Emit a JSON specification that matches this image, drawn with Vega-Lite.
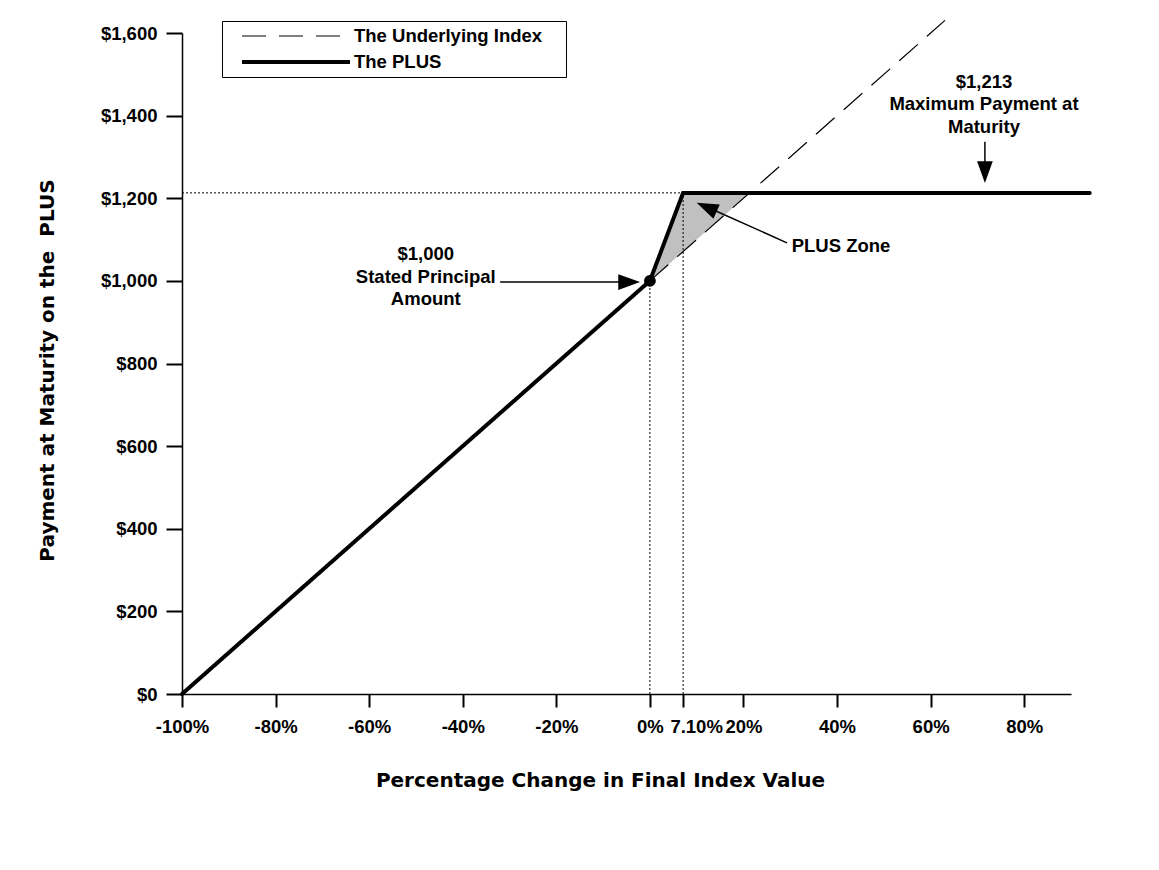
{
  "$schema": "https://vega.github.io/schema/vega-lite/v6.json",
  "width": 889,
  "height": 661,
  "autosize": {"type": "none"},
  "padding": {"left": 182, "top": 33, "right": 88, "bottom": 176},
  "background": "white",
  "config": {
    "view": {"stroke": null},
    "font": "Liberation Sans",
    "axis": {
      "grid": false,
      "domainColor": "black",
      "domainWidth": 1.5,
      "tickColor": "black",
      "tickWidth": 2,
      "labelFont": "Liberation Sans",
      "labelFontWeight": "bold",
      "labelFontSize": 18.5,
      "labelColor": "black",
      "titleFont": "DejaVu Sans",
      "titleFontWeight": "bold",
      "titleFontSize": 20,
      "titleColor": "black"
    },
    "legend": {
      "orient": "none",
      "legendX": 40,
      "legendY": -12,
      "strokeColor": "black",
      "fillColor": "white",
      "padding": 3,
      "symbolType": "stroke",
      "symbolSize": 11664,
      "symbolStrokeColor": "black",
      "clipHeight": 24,
      "symbolOffset": 15,
      "labelOffset": 2,
      "labelLimit": 0,
      "labelFont": "Liberation Sans",
      "labelFontWeight": "bold",
      "labelFontSize": 18.5,
      "labelColor": "black"
    }
  },
  "datasets": {
    "payoff": [
      {"series": "The Underlying Index", "change": 0, "payment": 1000, "step": 1},
      {"series": "The Underlying Index", "change": 63, "payment": 1630, "step": 2},
      {"series": "The PLUS", "change": -100, "payment": 0, "step": 1},
      {"series": "The PLUS", "change": 0, "payment": 1000, "step": 2},
      {"series": "The PLUS", "change": 7.1, "payment": 1213, "step": 3},
      {"series": "The PLUS", "change": 94, "payment": 1213, "step": 4}
    ],
    "zone": [
      {"change": 0, "low": 1000, "high": 1000},
      {"change": 7.1, "low": 1071, "high": 1213},
      {"change": 21.3, "low": 1213, "high": 1213}
    ],
    "guides": [
      {"x": -100, "x2": 7.1, "y": 1213, "y2": 1213},
      {"x": 0, "x2": 0, "y": 0, "y2": 1000},
      {"x": 7.1, "x2": 7.1, "y": 0, "y2": 1213}
    ],
    "arrows": [
      {"name": "principal", "x": -32, "y": 997, "x2": -3, "y2": 997},
      {"name": "max", "x": 71.6, "y": 1337, "x2": 71.6, "y2": 1245},
      {"name": "zone", "x": 29.3, "y": 1092, "x2": 11, "y2": 1185}
    ],
    "heads": [
      {"name": "principal", "x": -2.1, "y": 997},
      {"name": "max", "x": 71.6, "y": 1237},
      {"name": "zone", "x": 10.0, "y": 1189}
    ],
    "notes": [
      {"text": "$1,000\nStated Principal\nAmount", "x": -47.9, "y": 1065},
      {"text": "$1,213\nMaximum Payment at\nMaturity", "x": 71.4, "y": 1482}
    ]
  },
  "layer": [
    {
      "data": {"name": "zone"},
      "mark": {"type": "area", "color": "#c0c0c0", "opacity": 1},
      "encoding": {
        "x": {
          "field": "change",
          "type": "quantitative",
          "scale": {"domain": [-100, 90], "nice": false, "zero": false},
          "axis": {
            "values": [-100, -80, -60, -40, -20, 0, 7.1, 20, 40, 60, 80],
            "labelExpr": "datum.value == 7.1 ? '7.10%' : datum.value + '%'",
            "labelOverlap": false,
            "labelFlush": false,
            "tickSize": 13,
            "labelPadding": 10,
            "labelOffset": {"condition": {"test": "datum.value == 7.1", "value": 13}, "value": 0},
            "title": "Percentage Change in Final Index Value",
            "titleX": 418,
            "titleY": 76,
            "titleBaseline": "top"
          }
        },
        "y": {
          "field": "high",
          "type": "quantitative",
          "scale": {"domain": [0, 1600], "nice": false},
          "axis": {
            "values": [0, 200, 400, 600, 800, 1000, 1200, 1400, 1600],
            "format": "$,.0f",
            "tickSize": 16,
            "labelPadding": 9,
            "title": "Payment at Maturity on the\u00a0 PLUS",
            "titleAngle": 270,
            "titleBaseline": "middle",
            "titleX": -135,
            "titleY": 337
          }
        },
        "y2": {"field": "low"}
      }
    },
    {
      "data": {"name": "guides"},
      "mark": {"type": "rule", "color": "black", "strokeWidth": 1, "strokeDash": [2, 2]},
      "encoding": {
        "x": {"field": "x", "type": "quantitative"},
        "x2": {"field": "x2"},
        "y": {"field": "y", "type": "quantitative"},
        "y2": {"field": "y2"}
      }
    },
    {
      "data": {"name": "payoff"},
      "mark": {"type": "line", "strokeCap": "round", "strokeJoin": "miter"},
      "encoding": {
        "x": {"field": "change", "type": "quantitative"},
        "y": {"field": "payment", "type": "quantitative"},
        "order": {"field": "step"},
        "color": {
          "field": "series",
          "type": "nominal",
          "scale": {"domain": ["The Underlying Index", "The PLUS"], "range": ["black", "black"]},
          "legend": {"title": null, "labelExpr": "datum.label + '\u00a0\u00a0\u00a0\u00a0\u200b'"}
        },
        "strokeDash": {
          "field": "series",
          "type": "nominal",
          "scale": {"domain": ["The Underlying Index", "The PLUS"], "range": [[24, 13], [1, 0]]},
          "legend": {"title": null, "labelExpr": "datum.label + '\u00a0\u00a0\u00a0\u00a0\u200b'"}
        },
        "strokeWidth": {
          "field": "series",
          "type": "nominal",
          "scale": {"domain": ["The Underlying Index", "The PLUS"], "range": [1.2, 4]},
          "legend": {"title": null, "labelExpr": "datum.label + '\u00a0\u00a0\u00a0\u00a0\u200b'"}
        }
      }
    },
    {
      "data": {"values": [{"change": 0, "payment": 1000}]},
      "mark": {"type": "point", "shape": "circle", "filled": true, "color": "black", "opacity": 1, "size": 140},
      "encoding": {
        "x": {"field": "change", "type": "quantitative"},
        "y": {"field": "payment", "type": "quantitative"}
      }
    },
    {
      "data": {"name": "arrows"},
      "mark": {"type": "rule", "color": "black", "strokeWidth": 1.5},
      "encoding": {
        "x": {"field": "x", "type": "quantitative"},
        "x2": {"field": "x2"},
        "y": {"field": "y", "type": "quantitative"},
        "y2": {"field": "y2"}
      }
    },
    {
      "data": {"name": "heads"},
      "transform": [{"filter": "datum.name == 'principal'"}],
      "mark": {"type": "point", "shape": "M0,0L-1,-0.36L-1,0.36Z", "filled": true, "color": "black", "opacity": 1, "size": 1900, "angle": 0},
      "encoding": {
        "x": {"field": "x", "type": "quantitative"},
        "y": {"field": "y", "type": "quantitative"}
      }
    },
    {
      "data": {"name": "heads"},
      "transform": [{"filter": "datum.name == 'max'"}],
      "mark": {"type": "point", "shape": "M0,0L-1,-0.36L-1,0.36Z", "filled": true, "color": "black", "opacity": 1, "size": 1900, "angle": 90},
      "encoding": {
        "x": {"field": "x", "type": "quantitative"},
        "y": {"field": "y", "type": "quantitative"}
      }
    },
    {
      "data": {"name": "heads"},
      "transform": [{"filter": "datum.name == 'zone'"}],
      "mark": {"type": "point", "shape": "M0,0L-1,-0.36L-1,0.36Z", "filled": true, "color": "black", "opacity": 1, "size": 1900, "angle": 204},
      "encoding": {
        "x": {"field": "x", "type": "quantitative"},
        "y": {"field": "y", "type": "quantitative"}
      }
    },
    {
      "data": {"name": "notes"},
      "mark": {"type": "text", "align": "center", "baseline": "middle", "lineBreak": "\n", "lineHeight": 22.5, "font": "Liberation Sans", "fontWeight": "bold", "fontSize": 18.5, "color": "black"},
      "encoding": {
        "x": {"field": "x", "type": "quantitative"},
        "y": {"field": "y", "type": "quantitative"},
        "text": {"field": "text"}
      }
    },
    {
      "data": {"values": [{"text": "PLUS Zone", "x": 30.3, "y": 1085}]},
      "mark": {"type": "text", "align": "left", "baseline": "middle", "font": "Liberation Sans", "fontWeight": "bold", "fontSize": 18.5, "color": "black"},
      "encoding": {
        "x": {"field": "x", "type": "quantitative"},
        "y": {"field": "y", "type": "quantitative"},
        "text": {"field": "text"}
      }
    }
  ]
}
